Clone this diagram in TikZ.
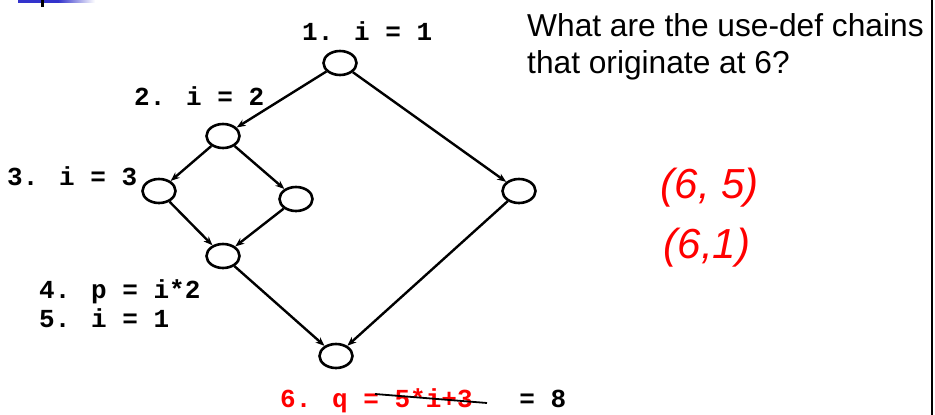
\documentclass[tikz,border=0pt]{standalone}
\usepackage{fontspec}
\setmainfont{Liberation Sans}
\newfontfamily\codefont{Liberation Mono}
\usetikzlibrary{arrows.meta,shapes.geometric}
\definecolor{barblue}{RGB}{51,51,204}
\definecolor{hand}{RGB}{255,0,0}
\tikzset{
  blk/.style={ellipse,draw,line width=2.6pt,minimum width=33pt,minimum height=24pt,inner sep=0pt},
  edge/.style={line width=2.4pt,-{Stealth[length=9pt,width=7pt]}},
  code/.style={anchor=base west,inner sep=0pt,font=\codefont\bfseries\fontsize{26}{30}\selectfont},
  question/.style={anchor=base west,inner sep=0pt,font=\fontsize{31.7}{37}\selectfont},
  handw/.style={inner sep=0pt,text=hand,font=\itshape\fontsize{42}{46}\selectfont}
}
\begin{document}
\begin{tikzpicture}[x=1pt,y=-1pt]
\useasboundingbox (0,0) rectangle (935,415);
\fill[white] (0,0) rectangle (935,415);
% top-left decoration
\fill[barblue] (18,0) rectangle (58,2.5);
\shade[left color=barblue,right color=white] (58,0) rectangle (95,2.5);
\fill[black] (41,0) rectangle (44,7);
% right border
\draw[line width=2.4pt] (932,0) -- (932,415);
% blocks
\node[blk] (n1) at (340,63) {};
\node[blk] (n2) at (223,136) {};
\node[blk] (n3) at (159,191) {};
\node[blk] (n4) at (296,199) {};
\node[blk] (n5) at (223,256) {};
\node[blk] (n6) at (336,356) {};
\node[blk] (n7) at (519,191) {};
% edges
\draw[edge] (n1) -- (n2);
\draw[edge] (n1) -- (n7);
\draw[edge] (n2) -- (n3);
\draw[edge] (n2) -- (n4);
\draw[edge] (n3) -- (n5);
\draw[edge] (n4) -- (n5);
\draw[edge] (n5) -- (n6);
\draw[edge] (n7) -- (n6);
% code labels
\node[code] (l1) at (302,40) {1. i = 1};
\node[code] (l2) at (134,105) {2. i = 2};
\node[code] (l3) at (7,185) {3. i = 3};
\node[code] (l4) at (39,298) {4. p = i*2};
\node[code] (l5) at (39,327) {5. i = 1};
\node[code] (l6) at (280,407) {\textcolor{hand}{6. q = 5*i+3}~~~= 8};
\coordinate (s1) at (375,394);
\coordinate (s2) at (487,403);
\draw[line width=1.8pt] (s1) -- (s2);
% question
\node[question] (q1) at (527,36) {What are the use-def chains};
\node[question] (q2) at (527,73) {that originate at 6?};
% handwritten answer
\node[handw] (a1) at (710,188) {(6, 5)};
\node[handw] (a2) at (707,248) {(6,1)};
\end{tikzpicture}
\end{document}
